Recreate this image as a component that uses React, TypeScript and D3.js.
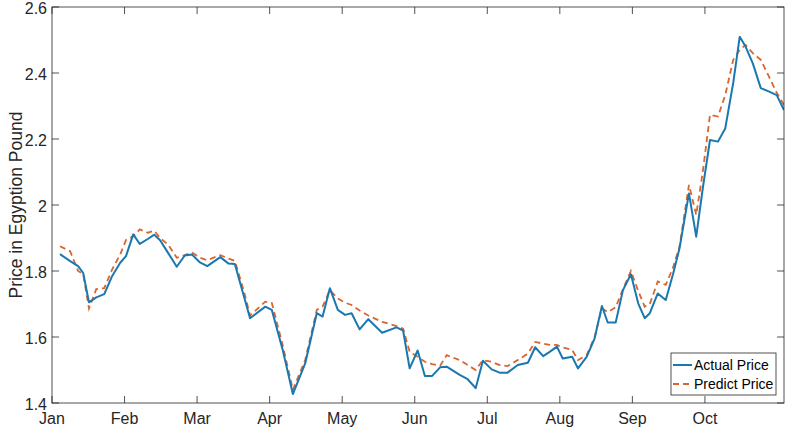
import React from "react";
import * as d3 from "d3";

const monthLabels = ["Jan", "Feb", "Mar", "Apr", "May", "Jun", "Jul", "Aug", "Sep", "Oct"];
const yTickValues = [1.4, 1.6, 1.8, 2, 2.2, 2.4, 2.6];

// x position in months since Jan
const xMonths = [
  0.11, 0.25, 0.36, 0.43, 0.51, 0.61, 0.72, 0.83, 0.94, 1.02,
  1.12, 1.21, 1.32, 1.41, 1.49, 1.6, 1.72, 1.83, 1.93, 2.04,
  2.14, 2.32, 2.43, 2.52, 2.65, 2.73, 2.94, 3.03, 3.18, 3.32,
  3.49, 3.65, 3.73, 3.83, 3.94, 4.04, 4.13, 4.24, 4.36, 4.55,
  4.75, 4.84, 4.93, 5.04, 5.14, 5.24, 5.35, 5.44, 5.62, 5.73,
  5.84, 5.94, 6.06, 6.17, 6.28, 6.42, 6.56, 6.66, 6.77, 6.86,
  6.96, 7.04, 7.17, 7.25, 7.37, 7.48, 7.58, 7.66, 7.77, 7.87,
  7.98, 8.08, 8.17, 8.24, 8.35, 8.46, 8.56, 8.65, 8.78, 8.88,
  8.97, 9.07, 9.18, 9.28, 9.39, 9.48, 9.56, 9.66, 9.77, 9.87,
  9.99, 10.09,
];

const actualPrice = [
  1.851, 1.83, 1.815, 1.794, 1.705, 1.72, 1.73, 1.785, 1.825, 1.845,
  1.911, 1.882, 1.897, 1.91, 1.893, 1.855, 1.813, 1.847, 1.85, 1.826,
  1.815, 1.842, 1.823, 1.821, 1.72, 1.657, 1.692, 1.682, 1.561, 1.427,
  1.52, 1.672, 1.662, 1.748, 1.682, 1.667, 1.672, 1.623, 1.654, 1.613,
  1.629, 1.619, 1.505, 1.559, 1.482, 1.482, 1.508, 1.51, 1.485, 1.472,
  1.445, 1.528, 1.502, 1.492, 1.492, 1.515, 1.522, 1.569, 1.542, 1.555,
  1.571, 1.535, 1.54, 1.505, 1.54, 1.596, 1.694, 1.644, 1.644, 1.742,
  1.79, 1.702, 1.657, 1.672, 1.732, 1.712, 1.79, 1.869, 2.035, 1.904,
  2.05, 2.197, 2.192, 2.232, 2.37, 2.51, 2.48, 2.429, 2.354, 2.345,
  2.333, 2.288,
];

const predictPrice = [
  1.875, 1.86, 1.8, 1.79, 1.686, 1.745, 1.748, 1.805, 1.85, 1.894,
  1.905, 1.926, 1.916, 1.922, 1.9, 1.88, 1.84, 1.848, 1.856, 1.84,
  1.833, 1.848, 1.838, 1.831, 1.735, 1.665, 1.707, 1.703, 1.575, 1.44,
  1.53, 1.682, 1.692, 1.742, 1.717, 1.704, 1.697, 1.68, 1.665, 1.646,
  1.633, 1.625, 1.555, 1.54, 1.525, 1.518, 1.513, 1.545, 1.53, 1.515,
  1.5, 1.53, 1.525, 1.515, 1.512, 1.53, 1.55, 1.585, 1.58, 1.576,
  1.576, 1.568, 1.561, 1.53, 1.545, 1.6, 1.687, 1.675, 1.69, 1.745,
  1.8, 1.74, 1.692, 1.7, 1.768, 1.758, 1.81, 1.874, 2.061, 1.97,
  2.1, 2.273, 2.268, 2.333, 2.44, 2.47, 2.485, 2.46, 2.44, 2.395,
  2.34, 2.303,
];

const seriesNames = ["Actual Price", "Predict Price"];

const W = 790;
const H = 428;
const L = 52;
const R = 784;
const T = 7;
const B = 403;
const axisColor = "#262626";
const blue = "#1a78b0";
const orange = "#da6530";
const font = "'Liberation Sans', Arial, Helvetica, sans-serif";

export default function App() {
  const x = d3.scaleLinear().domain([0, 10.09]).range([L, R]);
  const y = d3.scaleLinear().domain([1.4, 2.6]).range([B, T]);
  const idx = d3.range(xMonths.length);
  const lineA = d3
    .line<number>()
    .x((i) => x(xMonths[i]))
    .y((i) => y(actualPrice[i]));
  const lineP = d3
    .line<number>()
    .x((i) => x(xMonths[i]))
    .y((i) => y(predictPrice[i]));
  const tickLen = 7;

  return (
    <svg
      width={W}
      height={H}
      style={{ position: "absolute", left: 0, top: 0, background: "#fff" }}
      fontFamily={font}
    >
      <defs>
        <clipPath id="plotclip">
          <rect x={L} y={T} width={R - L} height={B - T} />
        </clipPath>
      </defs>
      <rect x={0} y={0} width={W} height={H} fill="#fff" />

      <g clipPath="url(#plotclip)">
        <path d={lineP(idx) || ""} fill="none" stroke={orange} strokeWidth={1.8} strokeDasharray="6,4" />
        <path d={lineA(idx) || ""} fill="none" stroke={blue} strokeWidth={2} strokeLinejoin="round" />
      </g>

      {/* box */}
      <rect x={L} y={T} width={R - L} height={B - T} fill="none" stroke={axisColor} strokeWidth={0.8} />

      {/* x ticks */}
      {monthLabels.map((m, i) => (
        <g key={m}>
          <line x1={x(i)} x2={x(i)} y1={B} y2={B - tickLen} stroke={axisColor} strokeWidth={0.8} />
          <line x1={x(i)} x2={x(i)} y1={T} y2={T + tickLen} stroke={axisColor} strokeWidth={0.8} />
          <text x={x(i)} y={424} textAnchor="middle" fontSize={16} fill={axisColor}>
            {m}
          </text>
        </g>
      ))}

      {/* y ticks */}
      {yTickValues.map((v) => (
        <g key={v}>
          <line x1={L} x2={L + tickLen} y1={y(v)} y2={y(v)} stroke={axisColor} strokeWidth={0.8} />
          <line x1={R} x2={R - tickLen} y1={y(v)} y2={y(v)} stroke={axisColor} strokeWidth={0.8} />
          <text x={47} y={y(v) + 6.5} textAnchor="end" fontSize={16} fill={axisColor}>
            {d3.format("~g")(v)}
          </text>
        </g>
      ))}

      <text
        transform={`translate(22,205) rotate(-90)`}
        textAnchor="middle"
        fontSize={17.5}
        fill={axisColor}
      >
        Price in Egyption Pound
      </text>

      {/* legend */}
      <g>
        <rect x={671} y={353} width={105} height={42} fill="#fff" stroke={axisColor} strokeWidth={0.8} />
        <line x1={673} x2={692} y1={365} y2={365} stroke={blue} strokeWidth={2} />
        <text x={694} y={370} fontSize={14} fill="#000">
          {seriesNames[0]}
        </text>
        <line x1={673} x2={692} y1={384} y2={384} stroke={orange} strokeWidth={1.8} strokeDasharray="6,4" />
        <text x={694} y={389} fontSize={14} fill="#000">
          {seriesNames[1]}
        </text>
      </g>
    </svg>
  );
}
